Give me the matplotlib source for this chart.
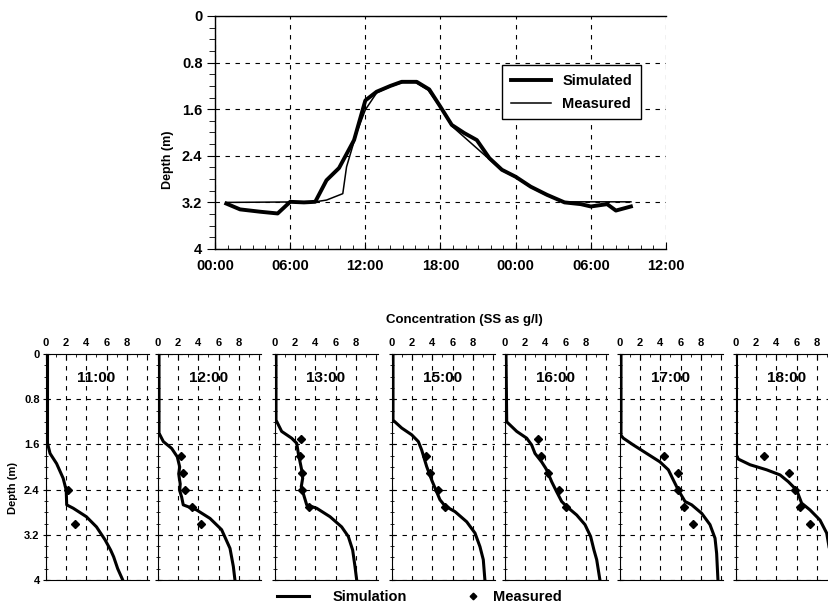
import matplotlib
matplotlib.use('Agg')
import matplotlib.pyplot as plt
from matplotlib.ticker import MultipleLocator

plt.rcParams['font.family'] = ['Liberation Sans', 'DejaVu Sans']
plt.rcParams['font.weight'] = 'bold'

# top chart: depth of the interface over time (hours from 00:00)
sim_hours = [0.9, 2.0, 3.6, 5.0, 6.0, 7.1, 8.0, 8.9, 9.9, 11.1, 12.0, 12.9, 14.0, 14.9,
             16.1, 17.1, 18.0, 18.9, 19.9, 20.9, 21.9, 22.9, 24.0, 25.2, 26.5, 27.9,
             29.2, 30.0, 31.3, 32.0, 33.2]
sim_depth = [3.22, 3.32, 3.36, 3.39, 3.19, 3.20, 3.19, 2.82, 2.61, 2.13, 1.45, 1.30, 1.20, 1.13,
             1.13, 1.26, 1.56, 1.87, 2.01, 2.13, 2.44, 2.64, 2.76, 2.93, 3.07, 3.20,
             3.23, 3.27, 3.23, 3.34, 3.27]
meas_hours = [0.9, 8.0, 8.9, 10.2, 10.5, 11.3, 12.0, 12.9, 14.0, 15.0, 16.0, 17.0, 18.0,
              18.9, 21.9, 22.9, 24.0, 25.2, 26.5, 27.8, 33.2]
meas_depth = [3.20, 3.19, 3.16, 3.05, 2.59, 2.01, 1.61, 1.32, 1.21, 1.14, 1.14, 1.27, 1.57,
              1.89, 2.46, 2.65, 2.77, 2.94, 3.08, 3.19, 3.19]
hour_ticks = [0, 6, 12, 18, 24, 30, 36]
hour_labels = ['00:00', '06:00', '12:00', '18:00', '00:00', '06:00', '12:00']
depth_ticks = [0, 0.8, 1.6, 2.4, 3.2, 4]
depth_labels = ['0', '0.8', '1.6', '2.4', '3.2', '4']

# bottom panels: concentration profiles
profile_times = ['11:00', '12:00', '13:00', '15:00', '16:00', '17:00', '18:00']
sim_conc = [
    [0.15, 0.15, 0.4, 1.05, 1.7, 2.0, 2.05, 2.7, 4.0, 5.0, 5.85, 6.4, 6.7, 7.1, 7.6],
    [0.1, 0.1, 0.53, 1.35, 1.91, 2.15, 2.05, 2.2, 2.15, 2.34, 2.5, 3.82, 5.15, 6.3, 7.13, 7.46, 7.62],
    [0.1, 0.1, 0.66, 1.65, 2.15, 2.31, 2.64, 2.74, 2.6, 3.14, 4.13, 5.45, 6.6, 7.26, 7.69, 7.92, 8.09],
    [0.1, 0.1, 0.96, 1.95, 2.61, 2.94, 3.43, 3.93, 4.42, 4.75, 5.25, 6.24, 7.4, 8.22, 8.71, 9.04, 9.2],
    [0.1, 0.17, 1.16, 2.15, 2.64, 2.97, 3.63, 4.13, 4.62, 5.12, 5.61, 6.11, 7.1, 7.92, 8.48, 8.81, 9.08, 9.4],
    [0.1, 0.1, 0.33, 1.32, 2.64, 3.96, 4.79, 5.28, 5.78, 6.44, 7.1, 8.09, 8.91, 9.41, 9.57, 9.7],
    [0.05, 0.05, 0.23, 1.39, 3.04, 4.36, 5.18, 6.01, 6.5, 7.33, 8.32, 8.98, 9.21, 9.45, 9.55],
]
sim_prof_depth = [
    [0, 1.58, 1.76, 1.94, 2.2, 2.41, 2.67, 2.73, 2.88, 3.06, 3.29, 3.47, 3.59, 3.8, 4.0],
    [0, 1.4, 1.55, 1.67, 1.82, 2.0, 2.12, 2.3, 2.42, 2.53, 2.67, 2.76, 2.91, 3.11, 3.44, 3.76, 4.0],
    [0, 1.17, 1.37, 1.49, 1.58, 1.76, 2.05, 2.2, 2.35, 2.67, 2.73, 2.88, 3.06, 3.23, 3.47, 3.76, 4.0],
    [0, 1.17, 1.31, 1.43, 1.55, 1.70, 1.99, 2.23, 2.44, 2.58, 2.69, 2.79, 2.97, 3.17, 3.41, 3.64, 4.0],
    [0, 1.2, 1.37, 1.49, 1.61, 1.76, 1.91, 2.05, 2.26, 2.44, 2.61, 2.70, 2.85, 3.02, 3.23, 3.47, 3.64, 4.0],
    [0, 1.44, 1.49, 1.61, 1.76, 1.91, 2.05, 2.23, 2.41, 2.61, 2.67, 2.82, 3.02, 3.26, 3.53, 4.0],
    [0, 1.79, 1.86, 1.96, 2.05, 2.14, 2.26, 2.41, 2.64, 2.76, 2.94, 3.17, 3.41, 3.7, 4.0],
]
meas_conc = [
    [2.2, 2.9],
    [2.3, 2.5, 2.7, 3.4, 4.3],
    [2.6, 2.5, 2.7, 2.7, 3.4],
    [3.4, 3.8, 4.6, 5.2],
    [3.3, 3.6, 4.3, 5.3, 6.0],
    [4.4, 5.7, 5.7, 6.3, 7.2],
    [2.8, 5.2, 5.8, 6.3, 7.3],
]
meas_prof_depth = [
    [2.4, 3.0],
    [1.8, 2.1, 2.4, 2.7, 3.0],
    [1.5, 1.8, 2.1, 2.4, 2.7],
    [1.8, 2.1, 2.4, 2.7],
    [1.5, 1.8, 2.1, 2.4, 2.7],
    [1.8, 2.1, 2.4, 2.7, 3.0],
    [1.8, 2.1, 2.4, 2.7, 3.0],
]
conc_ticks = [0, 2, 4, 6, 8]

W, H = 829, 606


def box(left, top, right, bottom):
    # pixel box -> figure fraction rect
    return [left / W, 1 - bottom / H, (right - left) / W, (bottom - top) / H]


grid_kw = dict(color='black', linestyle=(0, (4, 5)), linewidth=0.8)

fig = plt.figure(figsize=(W / 100, H / 100), dpi=100)

# ---- top chart
ax = fig.add_axes(box(215, 16, 666, 249))
ax.plot(sim_hours, sim_depth, color='black', lw=2.8, label='Simulated')
ax.plot(meas_hours, meas_depth, color='black', lw=1.1, label='Measured')
ax.set_xlim(0, 36)
ax.set_ylim(4, 0)
ax.set_xticks(hour_ticks)
ax.set_xticklabels(hour_labels)
ax.xaxis.set_minor_locator(MultipleLocator(1))
ax.set_yticks(depth_ticks)
ax.set_yticklabels(depth_labels)
ax.yaxis.set_minor_locator(MultipleLocator(0.2))
ax.grid(True, which='major', **grid_kw)
ax.spines['right'].set_visible(False)
for s in ax.spines.values():
    s.set_linewidth(1.0)
ax.tick_params(axis='x', which='major', direction='in', length=5, labelsize=10.5, pad=7)
ax.tick_params(axis='x', which='minor', direction='in', length=3)
ax.tick_params(axis='y', which='major', direction='out', length=6, labelsize=10.5, pad=3)
ax.tick_params(axis='y', which='minor', direction='out', length=4)
fig.text(168 / W, 1 - 160 / H, 'Depth (m)', rotation=90, ha='center', va='center', fontsize=9)
leg = ax.legend(loc='upper right', bbox_to_anchor=(0.96, 0.82), fontsize=10.5,
                handlelength=2.7, fancybox=False, framealpha=1, edgecolor='black',
                borderpad=0.6, labelspacing=0.6)
leg.get_frame().set_linewidth(1.0)

# ---- bottom profiles
panel_lefts = [46, 158, 275, 392, 505, 620, 736]
panel_width = 103
for i, t in enumerate(profile_times):
    left = panel_lefts[i]
    pa = fig.add_axes(box(left, 354, left + panel_width, 580))
    sim_line, = pa.plot(sim_conc[i], sim_prof_depth[i], color='black', lw=2.2)
    meas_pts, = pa.plot(meas_conc[i], meas_prof_depth[i], linestyle='none', marker='D',
                        color='black', markersize=4.5)
    pa.set_xlim(0, 10.2)
    pa.set_ylim(4, 0)
    pa.xaxis.tick_top()
    pa.set_xticks(conc_ticks)
    pa.xaxis.set_minor_locator(MultipleLocator(1))
    pa.set_yticks(depth_ticks)
    pa.yaxis.set_minor_locator(MultipleLocator(0.2))
    pa.grid(True, which='major', **grid_kw)
    pa.axvline(10, **grid_kw)
    pa.spines['right'].set_visible(False)
    pa.tick_params(axis='x', which='major', direction='in', length=4, labelsize=8, pad=4)
    pa.tick_params(axis='x', which='minor', direction='in', length=2.5)
    pa.tick_params(axis='y', which='major', direction='inout', length=5, labelsize=8, pad=2)
    pa.tick_params(axis='y', which='minor', direction='inout', length=3)
    if i == 0:
        pa.set_yticklabels(depth_labels)
    else:
        pa.set_yticklabels([])
    pa.text(5, 0.42, t, ha='center', va='center', fontsize=11)

fig.text(464 / W, 1 - 320 / H, 'Concentration (SS as g/l)', ha='center', va='center', fontsize=9.5)
fig.text(13 / W, 1 - 488 / H, 'Depth (m)', rotation=90, ha='center', va='center', fontsize=8)
fig.legend([sim_line], ['Simulation'], loc='center', bbox_to_anchor=(342 / W, 1 - 597 / H),
           frameon=False, fontsize=10.5, handlelength=2.2, handletextpad=1.6)
fig.legend([meas_pts], ['Measured'], loc='center', bbox_to_anchor=(514 / W, 1 - 597 / H),
           frameon=False, fontsize=10.5, handlelength=1.0, handletextpad=0.9, markerscale=0.75)

fig.savefig('out.png', dpi=100)
